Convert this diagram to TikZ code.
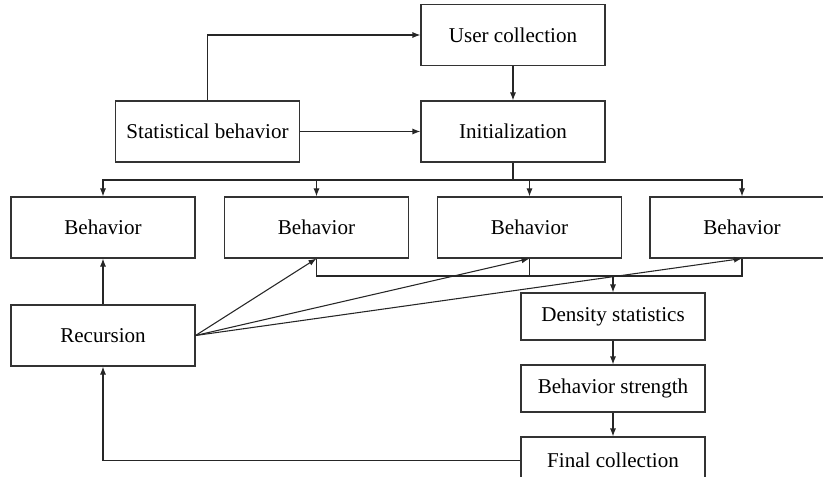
\documentclass[tikz,border=0pt]{standalone}
\usepackage{fontspec}
\setmainfont{Liberation Serif}
\usetikzlibrary{arrows.meta}
\begin{document}
\begin{tikzpicture}[x=0.75pt,y=-0.75pt,every node/.style={font=\fontsize{15.8}{19}\selectfont},
  bx/.style={draw=black!80,line width=0.8pt,minimum width=138pt,minimum height=45.75pt,inner sep=0pt},
  sm/.style={bx,minimum height=35.25pt},
  ln/.style={draw=black!85,line width=0.8pt},
  ar/.style={ln,-{Latex[length=6pt,width=4.5pt]}}]
\useasboundingbox (0,0) rectangle (823,477);
% bus heights
\coordinate (bus) at (0,180);
\coordinate (mrg) at (0,276);
%------------- top
\node[bx] (user) at (513,35) {User collection};
\node[bx] (init) at (513,131.5) {Initialization};
\node[bx] (stat) at (207.5,131.5) {Statistical behavior};
\draw[ar] (stat.north) |- (user.west);
\draw[ar] (stat) -- (init);
\draw[ar] (user) -- (init);
%------------- behaviors
\foreach \i/\x in {1/103,2/316.5,3/529.5,4/742}
  \node[bx] (beh\i) at (\x,227.5) {Behavior};
\draw[ln] (init.south) -- (init.south |- bus);
\foreach \i in {1,...,4}
  \draw[ar] (init.south |- bus) -| (beh\i.north);
%------------- right column
\node[sm] (dens) at (613,316.5) {Density statistics};
\node[sm] (str) at (613,388.5) {Behavior strength};
\node[sm] (fin) at (613,460.5) {Final collection};
\draw[ln] (beh2.south) |- (beh4.south |- mrg) -- (beh4.south);
\draw[ln] (beh3.south) -- (beh3.south |- mrg);
\draw[ar] (dens.north |- mrg) -- (dens.north);
\draw[ar] (dens) -- (str);
\draw[ar] (str) -- (fin);
%------------- recursion
\node[bx] (rec) at (103,335.5) {Recursion};
\draw[ar] (rec) -- (beh1);
\foreach \i in {2,3,4}
  \draw[ar] (rec.east) -- (beh\i.south);
\draw[ar] (fin.west) -| (rec.south);
\end{tikzpicture}
\end{document}
